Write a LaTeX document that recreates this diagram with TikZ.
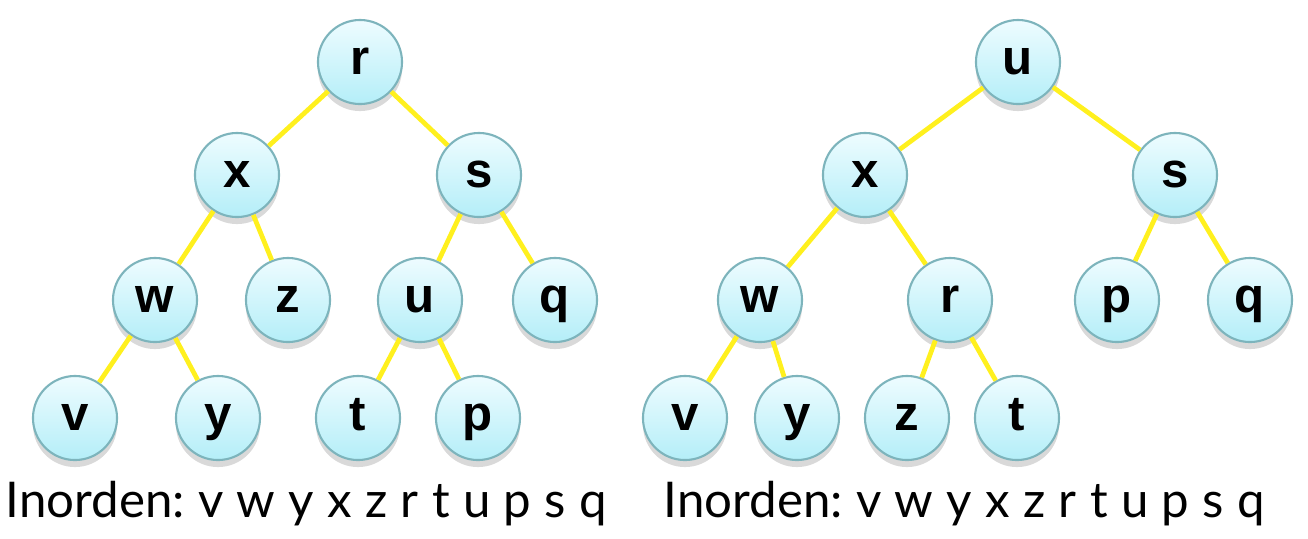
\documentclass[tikz,border=0pt]{standalone}
\usepackage{fontspec}
\setmainfont{Lato}
\newfontfamily\nodefont{Liberation Sans}
\usetikzlibrary{shadows}
\definecolor{node-top}{HTML}{EEFCFF}
\definecolor{node-bottom}{HTML}{B4EEF8}
\definecolor{node-rim}{HTML}{7DB4BC}
\definecolor{edge-yellow}{HTML}{FFF01E}
\newcommand{\orderfont}{\frenchspacing\fontsize{14}{14}\selectfont
  \setlength{\spaceskip}{0.27em}}

\begin{document}
\begin{tikzpicture}[x=0.01cm, y=-0.01cm,
    tnode/.style={circle, draw=node-rim, line width=0.6pt,
      top color=node-top, bottom color=node-bottom,
      minimum size=0.84cm, inner sep=0pt, text height=7.3pt, text depth=0pt,
      font=\nodefont\bfseries\fontsize{14}{14}\selectfont,
      drop shadow={opacity=0.3, shadow xshift=0pt, shadow yshift=-2pt}},
    tedge/.style={draw=edge-yellow, line width=1.35pt},
    order/.style={anchor=base west, inner sep=0pt, font=\orderfont}]
  \useasboundingbox (0,0) rectangle (1308,538);
  % left tree
  \foreach \n/\px/\py in {r/360/62, x/237/175, s/479/175, w/155/300, z/288/300,
      u/420/300, q/555/300, v/75/418, y/218/418, t/358/418, p/478/418}
    \node[tnode] (L\n) at (\px,\py) {\n};
  \foreach \a/\b in {r/x, r/s, x/w, x/z, s/u, s/q, w/v, w/y, u/t, u/p}
    \draw[tedge] (L\a) -- (L\b);
  % right tree
  \foreach \n/\px/\py in {u/1018/62, x/865/175, s/1175/175, w/760/300, r/950/300,
      p/1117/300, q/1250/300, v/685/418, y/797/418, z/907/418, t/1017/418}
    \node[tnode] (R\n) at (\px,\py) {\n};
  \foreach \a/\b in {u/x, u/s, x/w, x/r, s/p, s/q, w/v, w/y, r/z, r/t}
    \draw[tedge] (R\a) -- (R\b);
  % traversals
  \node[order] (Lord) at (5,517) {Inorden: v w y x z r t u p s q};
  \node[order] (Rord) at (663,517) {Inorden: v w y x z r t u p s q};
\end{tikzpicture}
\end{document}
